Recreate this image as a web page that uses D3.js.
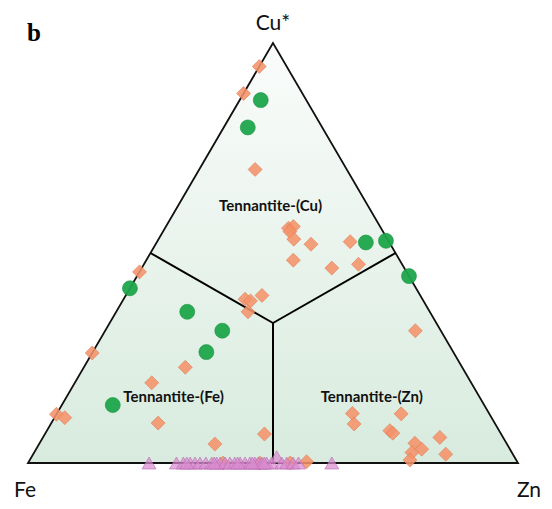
<!DOCTYPE html>
<html>
<head>
<meta charset="utf-8">
<script src="https://cdn.jsdelivr.net/npm/d3@7"></script>
<style>
  body { margin: 0; background: #fff; }
  svg { display: block; }
</style>
</head>
<body>
<svg width="552" height="509"></svg>
<script>
// ternary data, [Cu*, Fe, Zn] in %
let diamonds = [
  [94.4, 5.6, 0], [88.0, 12.0, 0], [69.9, 18.7, 11.4],
  [55.9, 18.9, 25.2], [56.3, 17.7, 26.0], [55.1, 19.0, 25.9], [53.3, 19.1, 27.6],
  [52.1, 16.2, 31.7], [52.7, 7.9, 39.4], [48.3, 21.7, 30.0], [46.4, 14.8, 38.8],
  [47.3, 8.9, 43.8], [39.0, 36.2, 24.8], [38.6, 35.3, 26.1], [39.9, 32.3, 27.8],
  [36.0, 37.1, 26.9], [45.5, 54.5, 0], [31.5, 5.2, 63.3], [26.2, 73.8, 0],
  [22.8, 56.5, 20.7], [19.1, 65.2, 15.7], [11.6, 88.4, 0], [10.8, 87.1, 2.1],
  [9.5, 68.7, 21.8], [4.5, 59.6, 35.9], [6.9, 48.3, 44.8], [0.3, 43.0, 56.7],
  [0, 60.2, 39.8], [0, 52.7, 47.3], [0, 46.5, 53.5],
  [11.8, 27.9, 60.3], [9.3, 28.8, 61.9], [11.7, 18.0, 70.3], [7.7, 22.3, 70.0],
  [7.1, 22.0, 70.9], [4.7, 18.7, 76.6], [3.3, 18.0, 78.7], [2.5, 20.4, 77.1],
  [0.7, 21.7, 77.6], [6.1, 12.9, 81.0], [2.1, 13.7, 84.2]
];
let circles = [
  [86.4, 9.3, 4.3], [79.9, 15.2, 4.9], [52.5, 4.8, 42.7], [52.9, 0.5, 46.6],
  [44.5, 0, 55.5], [41.6, 58.4, 0], [36.0, 49.5, 14.5], [31.5, 44.6, 23.9],
  [26.4, 50.4, 23.2], [13.8, 75.8, 10.4]
];
let triangles = [
  [0, 75.3, 24.7], [0, 69.7, 30.3], [0, 68.3, 31.7], [0, 66.9, 33.1], [0, 65.9, 34.1],
  [0, 64.9, 35.1], [0, 63.7, 36.3], [0, 62.5, 37.5], [0, 61.5, 38.5], [0, 60.8, 39.2],
  [0, 59.8, 40.2], [0, 58.8, 41.2], [0, 57.8, 42.2], [0, 56.7, 43.3], [0, 55.7, 44.3],
  [0, 54.7, 45.3], [0, 53.7, 46.3], [0, 53.0, 47.0], [0, 52.3, 47.7], [0, 51.3, 48.7],
  [0, 50.3, 49.7], [1.5, 48.5, 50.0], [0, 48.2, 51.8], [0, 47.2, 52.8], [0, 45.9, 54.1],
  [0, 44.8, 55.2], [0, 38.0, 62.0], [0, 67.6, 32.4], [0, 62.0, 38.0], [0, 57.2, 42.8],
  [0, 54.2, 45.8], [0, 51.8, 48.2]
];
let vertexLabels = ["Cu*", "Fe", "Zn"];
let fieldLabels = ["Tennantite-(Cu)", "Tennantite-(Fe)", "Tennantite-(Zn)"];
let fieldPos = [[60, 20.5, 19.5], [14.6, 63, 22.4], [14.5, 22.6, 62.9]];

let svg = d3.select('svg');

// scales: Cu* goes up, Zn goes along the base
let y = d3.scaleLinear().domain([0, 100]).range([463, 43]);
let x = d3.scaleLinear().domain([0, 100]).range([28, 518]);
function px(d) { return [x(d[2] + d[0] / 2), y(d[0])]; }

let grad = svg.append('defs').append('linearGradient')
  .attr('id', 'bg').attr('x1', 0).attr('y1', 0).attr('x2', 0).attr('y2', 1);
grad.append('stop').attr('offset', '0%').attr('stop-color', '#fafcfb');
grad.append('stop').attr('offset', '100%').attr('stop-color', '#d8ebde');

let corners = [[100, 0, 0], [0, 100, 0], [0, 0, 100]];
let line = d3.line();
svg.append('path')
  .attr('d', line(corners.map(px)) + 'Z')
  .attr('fill', 'url(#bg)')
  .attr('stroke', '#111')
  .attr('stroke-width', 1.8)
  .attr('stroke-linejoin', 'miter');

// field boundaries
let centre = [100 / 3, 100 / 3, 100 / 3];
[[50, 50, 0], [50, 0, 50], [0, 50, 50]].forEach(function (m) {
  svg.append('path')
    .attr('d', line([centre, m].map(px)))
    .attr('stroke', '#000')
    .attr('stroke-width', 2)
    .attr('fill', 'none');
});

svg.append('g').selectAll('path').data(diamonds).join('path')
  .attr('transform', d => 'translate(' + px(d) + ')')
  .attr('d', 'M0,-7L7,0L0,7L-7,0Z')
  .attr('fill', '#f4936a')
  .attr('fill-opacity', 0.88)
  .attr('stroke', '#e27c55')
  .attr('stroke-width', 0.6);

svg.append('g').selectAll('path').data(triangles).join('path')
  .attr('transform', d => 'translate(' + px(d) + ')')
  .attr('d', 'M0,-6L7,6L-7,6Z')
  .attr('fill', '#d98bd0')
  .attr('fill-opacity', 0.72)
  .attr('stroke', '#b96db1')
  .attr('stroke-width', 0.6);

svg.append('g').selectAll('circle').data(circles).join('circle')
  .attr('cx', d => px(d)[0])
  .attr('cy', d => px(d)[1])
  .attr('r', 7.5)
  .attr('fill', '#1ea54b')
  .attr('fill-opacity', 0.95)
  .attr('stroke', '#17923f')
  .attr('stroke-width', 0.6);

svg.append('g').selectAll('text').data(fieldLabels).join('text')
  .attr('x', (d, i) => px(fieldPos[i])[0])
  .attr('y', (d, i) => px(fieldPos[i])[1])
  .attr('text-anchor', 'middle')
  .attr('font-family', 'Lato, sans-serif')
  .attr('font-weight', 'bold')
  .attr('font-size', 15)
  .attr('fill', '#111')
  .text(d => d);

let vPos = [[273, 30], [25, 497], [529, 497]];
svg.append('g').selectAll('text').data(vertexLabels).join('text')
  .attr('x', (d, i) => vPos[i][0])
  .attr('y', (d, i) => vPos[i][1])
  .attr('text-anchor', 'middle')
  .attr('font-family', 'Lato, sans-serif')
  .attr('font-size', 21)
  .attr('fill', '#111')
  .text(d => d);

svg.append('text')
  .attr('x', 27).attr('y', 41)
  .attr('font-family', 'Liberation Serif, serif')
  .attr('font-weight', 'bold')
  .attr('font-size', 25)
  .text('b');
</script>
</body>
</html>
